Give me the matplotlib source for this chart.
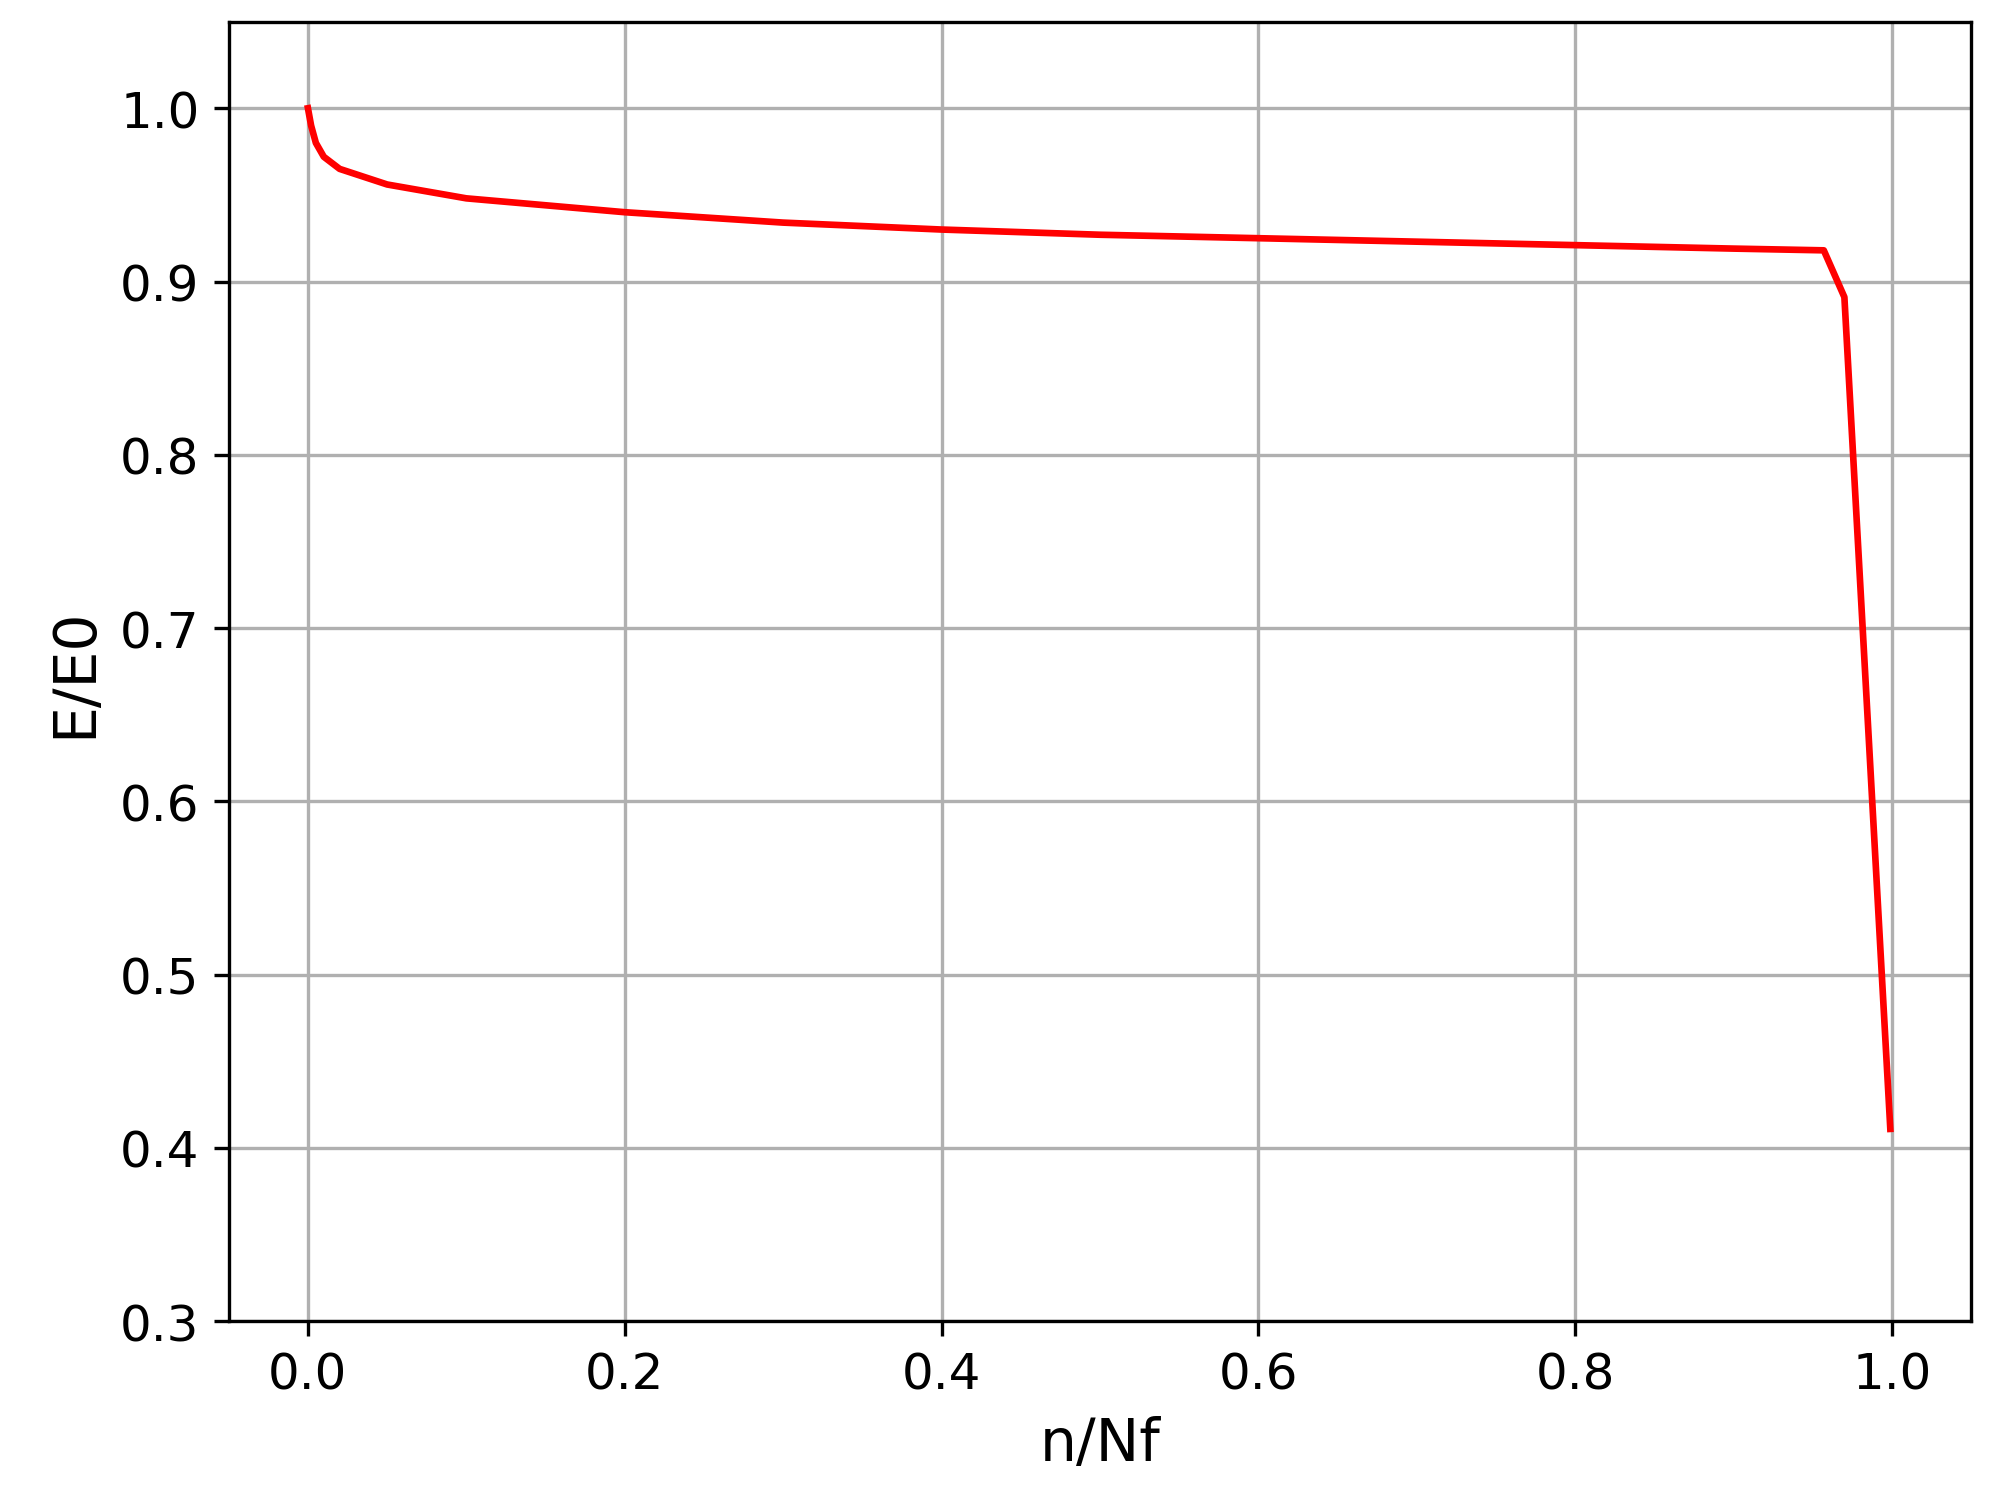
import matplotlib
matplotlib.use('Agg')
import matplotlib.pyplot as plt

# cycle fraction vs stiffness ratio
n_ratio = [0.0, 0.002, 0.005, 0.01, 0.02, 0.05, 0.1, 0.2, 0.3, 0.4, 0.5,
           0.6, 0.7, 0.8, 0.9, 0.957, 0.970, 0.999]
e_ratio = [1.0, 0.99, 0.98, 0.972, 0.965, 0.956, 0.948, 0.940, 0.934, 0.930,
           0.927, 0.925, 0.923, 0.921, 0.919, 0.918, 0.891, 0.411]

fig = plt.figure(figsize=(6.63, 5.02), dpi=300)
ax = fig.add_axes([0.115, 0.122, 0.876, 0.863])
ax.plot(n_ratio, e_ratio, color='red', linewidth=1.6)
ax.set_ylim(0.3, 1.05)
ax.set_xlim(-0.05, 1.05)
ax.set_xlabel('n/Nf', fontsize=14)
ax.set_ylabel('E/E0', fontsize=14)
ax.tick_params(labelsize=12)
ax.grid(True)

plt.savefig('out.png', dpi=300)
